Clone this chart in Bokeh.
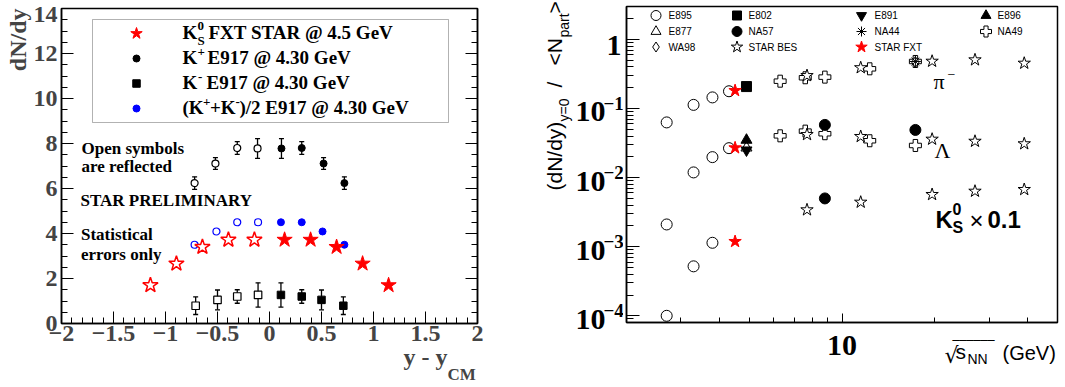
import numpy as np
from math import log10, pi
from bokeh.plotting import figure
from bokeh.layouts import row, column
from bokeh.models import (FixedTicker, LinearAxis, Label, BoxAnnotation, Whisker, Title,
                          ColumnDataSource, Range1d, TeeHead, BasicTickFormatter)
from bokeh.embed import file_html
from bokeh.resources import INLINE

# ------------------------------------------------------------------ data: left panel
k0s_rap = [0.145, 0.395, 0.645, 0.895, 1.145]
k0s_dndy = [3.72, 3.72, 3.40, 2.66, 1.70]
kplus_rap = [0.115, 0.31, 0.52, 0.72]
kplus_dndy = [7.78, 7.80, 7.11, 6.24]
kplus_err = [0.44, 0.28, 0.26, 0.28]
kminus_rap = [0.11, 0.31, 0.50, 0.71]
kminus_dndy = [1.27, 1.20, 1.05, 0.79]
kminus_err = [0.54, 0.30, 0.44, 0.39]
kavg_rap = [0.11, 0.31, 0.51, 0.72]
kavg_dndy = [4.50, 4.50, 4.09, 3.50]
left_xticks = [-2, -1.5, -1, -0.5, 0, 0.5, 1, 1.5, 2]
left_yticks = [0, 2, 4, 6, 8, 10, 12, 14]

# ------------------------------------------------------------------ data: right panel
e895_sqrts = [2.7, 3.3, 3.8, 4.3]
e895_pim = [0.063, 0.113, 0.145, 0.178]
e895_lambda = [0.0021, 0.0119, 0.0198, 0.0267]
e895_k0s_sqrts = [2.7, 3.3, 3.8]
e895_k0s = [1.0e-4, 5.2e-4, 1.14e-3]
e802_sqrts = [4.9]
e802_pim = [0.208]
e877_sqrts = [4.9]
e877_lambda = [0.027]
e891_sqrts = [4.9]
e891_lambda = [0.025]
e896_sqrts = [4.9]
e896_lambda = [0.035]
na57_sqrts = [8.8, 17.3]
na57_lambda = [0.058, 0.049]
na57_k0s_sqrts = [8.8]
na57_k0s = [0.0050]
na44_sqrts = [17.3]
na44_pim = [0.48]
na49_sqrts = [6.3, 7.6, 8.8, 12.3, 17.3]
na49_pim = [0.249, 0.279, 0.285, 0.376, 0.48]
na49_lambda = [0.0403, 0.0471, 0.0432, 0.0342, 0.0292]
wa98_sqrts = [17.3]
wa98_pim = [0.47]
starbes_sqrts = [7.7, 11.5, 19.6, 27.0, 39.0]
starbes_pim = [0.30, 0.39, 0.484, 0.507, 0.453]
starbes_lambda = [0.042, 0.0394, 0.036, 0.0336, 0.0309]
starbes_k0s = [0.00342, 0.00441, 0.0057, 0.00636, 0.00673]
starfxt_sqrts = [4.5]
starfxt_pim = [0.182]
starfxt_lambda = [0.027]
starfxt_k0s = [0.00119]
right_yticks = [1e-4, 1e-3, 1e-2, 1e-1, 1.0]
right_xticks = [10]

# ------------------------------------------------------------------ layout helpers
H = 387
LX0, LX1, LY0, LY1 = 61, 477, 8, 323          # left frame (canvas px)
LXR, LYR = (-2.0, 2.0), (0.0, 14.0)
RX0, RX1, RY0, RY1 = 626, 1057, 6, 322        # right frame (canvas px)
RXR, RYR = (2.0, 50.0), (8e-5, 3.0)
P1_W = 540
RS_X0, RS_X1 = 540, 623                       # strip holding right y labels
P2_X0, P2_W, P2_H = 623, 442, 325
MID = 0.3375                                   # baseline offset of a "middle" anchored text (em)
ASC, DESC = 0.891, 0.216                       # serif font metrics (em)
TITLE_SHIFT = 10                               # measured correction of the title placement (px)

# can the x title be set as (negative standoff) titles under the left panel?
try:
    Title(text="t", standoff=-20)
    TITLES_OK = True
except Exception:
    TITLES_OK = False
P1_H = H if TITLES_OK else 353

def lx(px):
    return LXR[0] + (px - LX0) / (LX1 - LX0) * (LXR[1] - LXR[0])

def ly(py):
    return LYR[0] + (LY1 - py) / (LY1 - LY0) * (LYR[1] - LYR[0])

def rx(px):
    a, b = log10(RXR[0]), log10(RXR[1])
    return 10 ** (a + (px - RX0) / (RX1 - RX0) * (b - a))

def ry(py):
    a, b = log10(RYR[0]), log10(RYR[1])
    return 10 ** (b - (py - RY0) / (RY1 - RY0) * (b - a))

def ry_px(v):
    a, b = log10(RYR[0]), log10(RYR[1])
    return RY0 + (b - log10(v)) / (b - a) * (RY1 - RY0)

def rx_px(v):
    a, b = log10(RXR[0]), log10(RXR[1])
    return RX0 + (log10(v) - a) / (b - a) * (RX1 - RX0)

SERIF = "Liberation Serif"
SANS = "Liberation Sans"

def put(p, fx, fy, px, py, text, size, font=SERIF, style="bold", align="left",
        angle=0.0, color="black", middle=False):
    """place a text by its baseline (canvas px); middle=True -> py is the text centre"""
    if not middle:
        if angle == 0.0:
            py = py - MID * size
        else:
            px = px - MID * size
    p.add_layout(Label(x=fx(px), y=fy(py), text=text, text_font=font,
                       text_font_size=f"{size}px", text_font_style=style,
                       text_align=align, text_baseline="middle", angle=angle,
                       text_color=color))

def style_axis(ax, tin, tmin, lw=1.5):
    ax.major_tick_in = tin
    ax.major_tick_out = 0
    ax.minor_tick_in = tmin
    ax.minor_tick_out = 0
    ax.axis_line_color = "black"
    ax.axis_line_width = lw
    ax.major_tick_line_color = "black"
    ax.minor_tick_line_color = "black"
    ax.major_tick_line_width = 1
    ax.minor_tick_line_width = 1

def hide_labels(ax, ticks):
    ax.major_label_overrides = {t: "" for t in ticks}
    ax.major_label_text_font_size = "0px"
    ax.major_label_standoff = 0

def no_align(fig):
    try:
        fig.frame_align = False
    except Exception:
        pass

def strip(w, h, fx0, fx1, fy0, fy1, bl=0, br=0, free=False):
    """text-only figure; its frame spans canvas px fx0..fx1 / fy0..fy1 (y negated)"""
    s = figure(width=w, height=h, x_range=Range1d(fx0, fx1),
               y_range=Range1d(-fy1, -fy0), output_backend="svg", toolbar_location=None,
               min_border_left=bl, min_border_right=br, min_border_top=0,
               min_border_bottom=0, x_axis_location=None, y_axis_location=None)
    s.title.visible = False
    s.grid.visible = False
    s.outline_line_color = None
    s.background_fill_color = "white"
    s.border_fill_color = "white"
    if free:
        no_align(s)
    return s

ident = lambda v: v
neg = lambda v: -v

# ================================================================== LEFT PANEL
p1 = figure(width=P1_W, height=P1_H, x_range=Range1d(*LXR), y_range=Range1d(*LYR),
            output_backend="svg", toolbar_location=None,
            min_border_left=LX0, min_border_right=P1_W - LX1,
            min_border_top=LY0, min_border_bottom=P1_H - LY1)
p1.title.visible = False
p1.grid.visible = False
p1.outline_line_color = "black"
p1.outline_line_width = 1.5
p1.background_fill_color = "white"
p1.border_fill_color = "white"
if TITLES_OK:
    no_align(p1)

def L(px, py, text, size, **kw):
    put(p1, lx, ly, px, py, text, size, **kw)

xminor = [round(LXR[0] + 0.1 * i, 2) for i in range(41)]
yminor = [0.5 * i for i in range(29)]

XL_STANDOFF = 2
xa = p1.xaxis[0]
xa.ticker = FixedTicker(ticks=left_xticks, minor_ticks=xminor)
xa.major_label_overrides = {t: (("\u2212" + f"{abs(t):g}") if t < 0 else f"{t:g}") for t in left_xticks}
xa.major_label_text_font = SERIF
xa.major_label_text_font_style = "bold"
xa.major_label_text_font_size = "24px"
xa.major_label_standoff = XL_STANDOFF
style_axis(xa, 12, 6)

# left axis: tick marks only
ya = p1.yaxis[0]
ya.ticker = FixedTicker(ticks=left_yticks, minor_ticks=yminor)
hide_labels(ya, left_yticks)
style_axis(ya, 12, 6)

# left tick labels (the top one sits slightly below its tick, as in the original)
top_pos = round(ly(LY0 + 6), 2)
lab_pos = left_yticks[:-1] + [top_pos]
yl = LinearAxis(ticker=FixedTicker(ticks=lab_pos, minor_ticks=[]),
                major_label_overrides={top_pos: f"{left_yticks[-1]:g}"})
yl.major_tick_in = 0
yl.major_tick_out = 0
yl.minor_tick_in = 0
yl.minor_tick_out = 0
yl.axis_line_color = None
yl.major_tick_line_color = None
yl.minor_tick_line_color = None
yl.major_label_text_font = SERIF
yl.major_label_text_font_style = "bold"
yl.major_label_text_font_size = "24px"
yl.major_label_standoff = 4
p1.add_layout(yl, "left")

ya2 = LinearAxis(ticker=FixedTicker(ticks=left_yticks, minor_ticks=yminor))
hide_labels(ya2, left_yticks)
style_axis(ya2, 12, 6)
p1.add_layout(ya2, "right")

p1.add_layout(Title(text="dN/dy", align="right", text_font=SERIF, text_font_size="24px",
                    text_font_style="bold", standoff=0), "left")

def whisk(p, xs, ys, es):
    src = ColumnDataSource(dict(x=list(xs), lo=[y - e for y, e in zip(ys, es)],
                                hi=[y + e for y, e in zip(ys, es)]))
    w = Whisker(source=src, base="x", lower="lo", upper="hi", line_color="black",
                line_width=1.3, level="underlay",
                upper_head=TeeHead(size=5, line_width=1.3, line_color="black"),
                lower_head=TeeHead(size=5, line_width=1.3, line_color="black"))
    p.add_layout(w)

refl = lambda xs: [-v for v in xs]

whisk(p1, kplus_rap + refl(kplus_rap), kplus_dndy * 2, kplus_err * 2)
whisk(p1, kminus_rap + refl(kminus_rap), kminus_dndy * 2, kminus_err * 2)

p1.scatter(kplus_rap, kplus_dndy, marker="circle", size=7, fill_color="black", line_color="black")
p1.scatter(refl(kplus_rap), kplus_dndy, marker="circle", size=7, fill_color="white", line_color="black", line_width=1.2)
p1.scatter(kminus_rap, kminus_dndy, marker="square", size=7.5, fill_color="black", line_color="black")
p1.scatter(refl(kminus_rap), kminus_dndy, marker="square", size=7.5, fill_color="white", line_color="black", line_width=1.2)
p1.scatter(kavg_rap, kavg_dndy, marker="circle", size=7, fill_color="blue", line_color="blue")
p1.scatter(refl(kavg_rap), kavg_dndy, marker="circle", size=7, fill_color="white", line_color="blue", line_width=1.2)
p1.scatter(refl(k0s_rap), k0s_dndy, marker="star", size=16, fill_color="white", line_color="red", line_width=1.5)
p1.scatter(k0s_rap, k0s_dndy, marker="star", size=16, fill_color="red", line_color="red")

# legend box
p1.add_layout(BoxAnnotation(left=lx(92), right=lx(448), top=ly(19), bottom=ly(122),
                            fill_color=None, fill_alpha=0, line_color="black", line_width=1))
leg_rows = [33, 58, 83, 108]
p1.scatter([lx(136)], [ly(leg_rows[0])], marker="star", size=12, fill_color="red", line_color="red")
p1.scatter([lx(136)], [ly(leg_rows[1])], marker="circle", size=7, fill_color="black", line_color="black")
p1.scatter([lx(136)], [ly(leg_rows[2])], marker="square", size=7.5, fill_color="black", line_color="black")
p1.scatter([lx(136)], [ly(leg_rows[3])], marker="circle", size=7, fill_color="blue", line_color="blue")

b = [r + 5.5 for r in leg_rows]
L(182, b[0], "K", 19)
L(197, b[0] - 8.5, "0", 13)
L(197, b[0] + 6, "S", 13)
L(208, b[0], "FXT STAR @ 4.5 GeV", 19)
L(182, b[1], "K", 19)
L(197, b[1] - 8, "+", 13)
L(207, b[1], "E917 @ 4.30 GeV", 19)
L(182, b[2], "K", 19)
L(197.5, b[2] - 8, "-", 13)
L(206, b[2], "E917 @ 4.30 GeV", 19)
L(182, b[3], "(K", 19)
L(202.5, b[3] - 8, "+", 13)
L(209.5, b[3], "+K", 19)
L(235, b[3] - 8, "-", 13)
L(239, b[3], ")/2 E917 @ 4.30 GeV", 19)

L(81, 154, "Open symbols", 17)
L(81, 172, "are reflected", 17)
L(80, 206, "STAR PRELIMINARY", 17)
L(80.5, 239.5, "Statistical", 17)
L(80.5, 259.5, "errors only", 17)

# x title "y - y_CM"
XT_MAIN = ("y - y", 403, 364, 24)
XT_SUB = ("CM", 447, 379, 17)
if TITLES_OK:
    hgt = lambda s: (ASC + DESC) * s
    top1 = LY1 + XL_STANDOFF + hgt(24)                       # below the tick labels
    s1 = 2 * (XT_MAIN[2] + TITLE_SHIFT + DESC * XT_MAIN[3] - top1 - 2 - hgt(XT_MAIN[3]))
    top2 = top1 + 2 + hgt(XT_MAIN[3]) + s1
    s2 = 2 * (XT_SUB[2] + TITLE_SHIFT + DESC * XT_SUB[3] - top2 - 2 - hgt(XT_SUB[3]))
    for (txt, px, py, sz), st in ((XT_MAIN, s1), (XT_SUB, s2)):
        p1.add_layout(Title(text=txt, align="left", vertical_align="bottom",
                            offset=px - LX0, standoff=st, text_font=SERIF,
                            text_font_size=f"{sz}px", text_font_style="bold"), "below")
    left_block = column(p1)
else:
    b1 = strip(P1_W, H - P1_H, LX0, LX1, P1_H, H, bl=LX0, br=P1_W - LX1)
    for txt, px, py, sz in (XT_MAIN, XT_SUB):
        put(b1, ident, neg, px, py, txt, sz)
    left_block = column(p1, b1)

# ================================================================== RIGHT PANEL
p2 = figure(width=P2_W, height=P2_H, x_axis_type="log", y_axis_type="log",
            x_range=Range1d(*RXR), y_range=Range1d(*RYR),
            output_backend="svg", toolbar_location=None,
            min_border_left=RX0 - P2_X0, min_border_right=P2_X0 + P2_W - RX1,
            min_border_top=RY0, min_border_bottom=P2_H - RY1)
p2.title.visible = False
p2.grid.visible = False
p2.outline_line_color = "black"
p2.outline_line_width = 1.5
p2.background_fill_color = "white"
p2.border_fill_color = "white"

def R(px, py, text, size, **kw):
    put(p2, rx, ry, px, py, text, size, **kw)

rxminor = [3, 4, 5, 6, 7, 8, 9, 20, 30, 40]
ryminor = [m * 10.0 ** e for e in range(-5, 1) for m in range(2, 10)
           if RYR[0] <= m * 10.0 ** e <= RYR[1]]

xb = p2.xaxis[0]
xb.ticker = FixedTicker(ticks=right_xticks, minor_ticks=rxminor)
xb.formatter = BasicTickFormatter()
hide_labels(xb, right_xticks)
style_axis(xb, 9, 5)

yb = p2.yaxis[0]
yb.ticker = FixedTicker(ticks=right_yticks, minor_ticks=ryminor)
yb.formatter = BasicTickFormatter()
hide_labels(yb, right_yticks)
style_axis(yb, 13, 7)

styles = {
    "E895": dict(marker="circle", fill_color=None, line_color="black", size=11),
    "E802": dict(marker="square", fill_color="black", line_color="black", size=10),
    "E891": dict(marker="inverted_triangle", fill_color="black", line_color="black", size=11),
    "E896": dict(marker="triangle", fill_color="black", line_color="black", size=11),
    "E877": dict(marker="triangle", fill_color=None, line_color="black", size=11),
    "NA57": dict(marker="circle", fill_color="black", line_color="black", size=11),
    "NA44": dict(marker="asterisk", fill_color=None, line_color="black", size=11),
    "NA49": dict(marker="plus", fill_color="white", line_color="black", size=12),
    "WA98": dict(marker="diamond", fill_color=None, line_color="black", size=11),
    "STAR BES": dict(marker="star", fill_color="white", line_color="black", size=13),
    "STAR FXT": dict(marker="star", fill_color="red", line_color="red", size=13),
}

series = [
    ("E895", e895_sqrts + e895_sqrts + e895_k0s_sqrts, e895_pim + e895_lambda + e895_k0s),
    ("NA49", na49_sqrts + na49_sqrts, na49_pim + na49_lambda),
    ("STAR BES", starbes_sqrts * 3, starbes_pim + starbes_lambda + starbes_k0s),
    ("WA98", wa98_sqrts, wa98_pim),
    ("NA44", na44_sqrts, na44_pim),
    ("NA57", na57_sqrts + na57_k0s_sqrts, na57_lambda + na57_k0s),
    ("E877", e877_sqrts, e877_lambda),
    ("E891", e891_sqrts, e891_lambda),
    ("E896", e896_sqrts, e896_lambda),
    ("E802", e802_sqrts, e802_pim),
    ("STAR FXT", starfxt_sqrts * 3, starfxt_pim + starfxt_lambda + starfxt_k0s),
]
for name, xs, ys in series:
    p2.scatter(xs, ys, line_width=1, **styles[name])

leg_y = [15, 31, 46.5]
leg_mx = [655.5, 736.5, 861, 985.5]
leg_tx = [668, 748, 874, 997]
entries = [(0, 0, "E895"), (0, 1, "E802"), (0, 2, "E891"), (0, 3, "E896"),
           (1, 0, "E877"), (1, 1, "NA57"), (1, 2, "NA44"), (1, 3, "NA49"),
           (2, 0, "WA98"), (2, 1, "STAR BES"), (2, 2, "STAR FXT")]
for r, c, name in entries:
    st = dict(styles[name])
    st["size"] = st["size"] - 1
    p2.scatter([rx(leg_mx[c])], [ry(leg_y[r])], line_width=1, **st)
    R(leg_tx[c], leg_y[r], name, 10, font=SANS, style="normal", middle=True)

R(933, 88, "\u03c0", 22, style="normal")
R(947, 78, "\u2212", 14, style="normal")
R(934, 157, "\u039b", 22, style="normal")
R(935, 227, "K", 24, font=SANS)
R(952, 214, "0", 16, font=SANS)
R(952, 232, "S", 16, font=SANS)
R(969, 228, "\u00d7", 24, font=SANS, style="normal")
R(987, 227, "0.1", 24, font=SANS)

# strip left of right panel: y tick labels and y title
rs = strip(RS_X1 - RS_X0, H, RS_X0, RS_X1, 0, H, free=True)
for v in right_yticks:
    t = ry_px(v)
    if v == 1.0:
        put(rs, ident, neg, 621, t + 16, "1", 30, align="right")
    else:
        e = int(round(log10(v)))
        put(rs, ident, neg, 605, t + 13.5, "10", 30, align="right")
        put(rs, ident, neg, 603, t + 1.5, "\u2212" + str(-e), 19)

rot = pi / 2
put(rs, ident, neg, 561, 190, "(dN/dy)", 21, font=SANS, style="normal", angle=rot)
put(rs, ident, neg, 568, 121, "y=0", 14, font=SANS, style="normal", angle=rot)
put(rs, ident, neg, 561, 87, "/", 21, font=SANS, style="normal", angle=rot)
put(rs, ident, neg, 561, 65, "<N", 21, font=SANS, style="normal", angle=rot)
put(rs, ident, neg, 568, 37, "part", 14, font=SANS, style="normal", angle=rot)
put(rs, ident, neg, 561, 13, ">", 21, font=SANS, style="normal", angle=rot)

# strip below right panel (same side borders as p2): x tick label and x title
b2 = strip(P2_W, H - P2_H, RX0, RX1, P2_H, H, bl=RX0 - P2_X0, br=P2_X0 + P2_W - RX1)
for v in right_xticks:
    put(b2, ident, neg, rx_px(v), 355, f"{v:g}", 30, align="center")
put(b2, ident, neg, 944, 362, "\u221a", 22, font="DejaVu Sans", style="normal")
put(b2, ident, neg, 952, 350, "\u203e\u203e\u203e\u203e\u203e\u203e", 14, font="DejaVu Sans", style="normal")
put(b2, ident, neg, 955, 358, "s", 21, font=SANS, style="normal")
put(b2, ident, neg, 967, 363, "NN", 14, font=SANS, style="normal")
put(b2, ident, neg, 1002, 359, "(GeV)", 20, font=SANS, style="normal")

layout = row(left_block, rs, column(p2, b2))
open("out.html", "w").write(file_html(layout, INLINE))
